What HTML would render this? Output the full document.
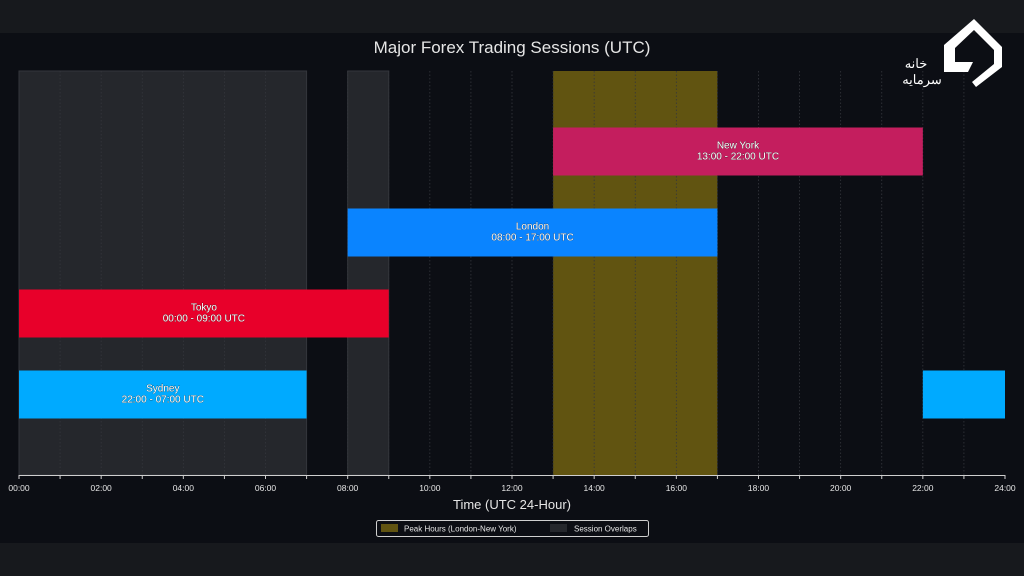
<!DOCTYPE html>
<html><head><meta charset="utf-8"><style>
html,body{margin:0;padding:0;background:#17191d;width:1024px;height:576px;overflow:hidden;font-family:"Liberation Sans",sans-serif}
svg text{font-family:"Liberation Sans","Noto Sans CJK SC",sans-serif}
</style></head><body>
<svg id="c" width="1024" height="576" xmlns="http://www.w3.org/2000/svg">
<rect x="0" y="0" width="1024" height="576" fill="#17191d"/>
<rect x="0" y="33" width="1024" height="510" fill="#0c0e14"/>
<text x="512" y="53" fill="#e6e6e6" font-size="17" text-anchor="middle">Major Forex Trading Sessions (UTC)</text>
<g id="plot"></g>
<text x="512" y="509" fill="#e6e6e6" font-size="13" text-anchor="middle">Time (UTC 24-Hour)</text>
<g>
<rect x="376.5" y="520.5" width="272" height="16" rx="2" fill="#0c0e14" stroke="#cfcfcf" stroke-width="1"/>
<rect x="381" y="524" width="17" height="8" fill="#615411"/>
<text x="404" y="531.5" fill="#e6e6e6" font-size="8">Peak Hours (London-New York)</text>
<rect x="550" y="524" width="17" height="8" fill="#25272c"/>
<text x="574" y="531.5" fill="#e6e6e6" font-size="8">Session Overlaps</text>
</g>
<g>
<polygon points="974,19 1002,47 1002,67 976,87 972,82 994,64 994,50 974,30 955,48 955,62 973,62 968,72 944,72 944,45" fill="#ffffff"/>
<text x="916" y="68" fill="#ffffff" font-size="13" text-anchor="middle">خانه</text>
<text x="922" y="84" fill="#ffffff" font-size="13" text-anchor="middle">سرمایه</text>
</g>
</svg>
<script>
const sessionNames=["Sydney","Tokyo","London","New York"];
const sessionStarts=[22,0,8,13];
const sessionEnds=[7,9,17,22];
const sessionLabels=["22:00 - 07:00 UTC","00:00 - 09:00 UTC","08:00 - 17:00 UTC","13:00 - 22:00 UTC"];
const sessionColors=["#00aaff","#e8002a","#0a84ff","#c41e5e"];
const overlapStarts=[0,8];
const overlapEnds=[7,9];
const peakStart=13, peakEnd=17;
const tickHours=[0,2,4,6,8,10,12,14,16,18,20,22,24];
const tickLabels=["00:00","02:00","04:00","06:00","08:00","10:00","12:00","14:00","16:00","18:00","20:00","22:00","24:00"];

const X0=19,X1=1005,YT=71,YB=475;
const x=h=>X0+(X1-X0)*h/24;
const rowY=i=>394.5-81*i;
const BH=48;
const g=document.getElementById('plot');
const NS='http://www.w3.org/2000/svg';
function mk(t,a){const e=document.createElementNS(NS,t);for(const k in a)e.setAttribute(k,a[k]);g.appendChild(e);return e;}

for(let i=0;i<overlapStarts.length;i++){
  const r=mk('rect',{x:x(overlapStarts[i]),y:YT,width:x(overlapEnds[i])-x(overlapStarts[i]),height:YB-YT,fill:'#25272c',stroke:'#34363b','stroke-width':1});
  
  
}
const pk=mk('rect',{x:x(peakStart),y:YT,width:x(peakEnd)-x(peakStart),height:YB-YT,fill:'#615411'});


for(let h=1;h<24;h++){
  const l=mk('line',{x1:x(h),x2:x(h),y1:YT,y2:YB,stroke:'#34363c','stroke-width':0.8,'stroke-dasharray':'1.5,2'});
  
  
}
for(let i=0;i<sessionNames.length;i++){
  const s=sessionStarts[i],e=sessionEnds[i],cy=rowY(i);
  const segs=e>s?[[s,e]]:[[s,24],[0,e]];
  segs.forEach(sg=>{
    const r=mk('rect',{x:x(sg[0]),y:cy-BH/2,width:x(sg[1])-x(sg[0]),height:BH,fill:sessionColors[i]});
    
    
  });
  const mid=e>s?(s+e)/2:e/2;
  [sessionNames[i],sessionLabels[i]].forEach((t,k)=>{
    const tx=mk('text',{x:x(mid),y:cy-3+k*11,fill:'#ffffff','font-size':10,'text-anchor':'middle',stroke:'#222','stroke-width':0.4,'paint-order':'stroke'});
    tx.textContent=t;
    
    
  });
}
const ax=mk('line',{x1:X0,x2:X1,y1:YB+0.5,y2:YB+0.5,stroke:'#cfcfcf','stroke-width':1});


for(let h=0;h<=24;h++){
  const t=mk('line',{x1:x(h),x2:x(h),y1:YB,y2:YB+4,stroke:'#cfcfcf','stroke-width':1});
  
  
}
tickHours.forEach((h,i)=>{
  const t=mk('text',{x:x(h),y:491,fill:'#e6e6e6','font-size':8.5,'text-anchor':'middle'});
  t.textContent=tickLabels[i];
  
  
});
</script>
</body></html>
